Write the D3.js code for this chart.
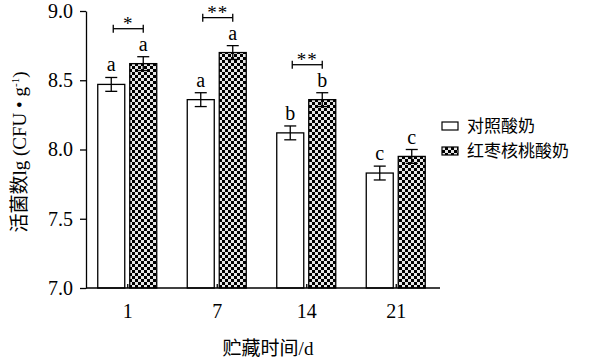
<!DOCTYPE html>
<html><head><meta charset="utf-8">
<script src="https://cdn.jsdelivr.net/npm/d3@7"></script>
<style>body{margin:0;background:#fff}</style>
</head><body>
<svg id="c" width="601" height="362"></svg>
<script>
const categories = ["1","7","14","21"];
const seriesNames = ["对照酸奶","红枣核桃酸奶"];
const controlVals = [8.47, 8.36, 8.12, 7.83];
const controlErr  = [0.05, 0.05, 0.05, 0.05];
const jujubeVals  = [8.62, 8.70, 8.36, 7.95];
const jujubeErr   = [0.05, 0.05, 0.05, 0.05];
const controlLetters = ["a","a","b","c"];
const jujubeLetters  = ["a","a","b","c"];
const sigMarks = ["*","**","**",""];
const yTicks = [7.0, 7.5, 8.0, 8.5, 9.0];

const serif = "'Liberation Serif','Times New Roman','Noto Sans CJK SC',serif";
const svg = d3.select("#c");
const defs = svg.append("defs");
const pat = defs.append("pattern").attr("id","chk").attr("patternUnits","userSpaceOnUse")
  .attr("width",6).attr("height",6);
pat.append("rect").attr("width",6).attr("height",6).attr("fill","#e6e6e6");
pat.append("rect").attr("width",3).attr("height",3).attr("fill","#000");
pat.append("rect").attr("x",3).attr("y",3).attr("width",3).attr("height",3).attr("fill","#000");

const y = d3.scaleLinear().domain([7,9]).range([288,11]);
const x = d3.scaleBand().domain(categories).range([83,441]).padding(0);
const xs = d3.scaleBand().domain(seriesNames).range([0,59]).paddingInner(0.156);
const axisX0 = 86;

const data = categories.map((c,i)=>[
  {c, s:seriesNames[0], v:controlVals[i], e:controlErr[i], l:controlLetters[i]},
  {c, s:seriesNames[1], v:jujubeVals[i], e:jujubeErr[i], l:jujubeLetters[i]}
]);
const bx = d => x(d.c) + x.bandwidth()/2 - 30 + xs(d.s);

const g = svg.append("g");
const flat = data.flat();
// bars
g.selectAll("rect.bar").data(flat).join("rect")
  .attr("x", bx).attr("width", xs.bandwidth())
  .attr("y", d=>y(d.v)).attr("height", d=>y(7)-y(d.v))
  .attr("fill", d=> d.s===seriesNames[0] ? "#fff" : "url(#chk)")
  .attr("stroke","#000").attr("stroke-width",1.3);
// error bars
const eb = g.selectAll("g.err").data(flat).join("g");
eb.append("line").attr("x1",d=>bx(d)+xs.bandwidth()/2).attr("x2",d=>bx(d)+xs.bandwidth()/2)
  .attr("y1",d=>y(d.v+d.e)).attr("y2",d=>y(d.v-d.e)).attr("stroke","#000").attr("stroke-width",1.3);
eb.selectAll("line.cap").data(d=>[[d,d.v+d.e],[d,d.v-d.e]]).join("line")
  .attr("x1",([d])=>bx(d)+xs.bandwidth()/2-6).attr("x2",([d])=>bx(d)+xs.bandwidth()/2+6)
  .attr("y1",([,v])=>y(v)).attr("y2",([,v])=>y(v)).attr("stroke","#000").attr("stroke-width",1.3);
// letters
g.selectAll("text.let").data(flat).join("text")
  .attr("x",d=>bx(d)+xs.bandwidth()/2).attr("y",d=>y(d.v+d.e)-6)
  .attr("text-anchor","middle").attr("font-family",serif).attr("font-size",20)
  .text(d=>d.l);
// significance brackets
data.forEach((pair,i)=>{
  if(!sigMarks[i]) return;
  const x1 = bx(pair[0])+xs.bandwidth()/2+2, x2 = bx(pair[1])+xs.bandwidth()/2;
  const top = Math.min(y(pair[0].v+pair[0].e), y(pair[1].v+pair[1].e));
  const by = top - 28;
  const sg = g.append("g").attr("stroke","#000").attr("stroke-width",1.3);
  sg.append("line").attr("x1",x1).attr("x2",x2).attr("y1",by).attr("y2",by);
  sg.append("line").attr("x1",x1).attr("x2",x1).attr("y1",by-4).attr("y2",by+4);
  sg.append("line").attr("x1",x2).attr("x2",x2).attr("y1",by-4).attr("y2",by+4);
  g.append("text").attr("x",(x1+x2)/2).attr("y",by+1).attr("text-anchor","middle")
   .attr("font-family",serif).attr("font-size",19).attr("letter-spacing",1).text(sigMarks[i]);
});

// y axis
const ya = svg.append("g").attr("transform",`translate(${axisX0},0)`)
  .call(d3.axisLeft(y).tickValues(yTicks).tickFormat(d3.format(".1f")).tickSize(6).tickSizeOuter(0));
ya.select(".domain").attr("stroke-width",1.3);
ya.selectAll(".tick line").attr("stroke-width",1.3);
ya.selectAll("text").attr("font-family",serif).attr("font-size",20).attr("fill","#000").attr("x",-13);

// x axis
const xa = svg.append("g").attr("transform",`translate(0,${y(7)})`)
  .call(d3.axisBottom(x).tickSize(-4).tickSizeOuter(0));
xa.select(".domain").remove();
xa.selectAll(".tick line").attr("stroke-width",1.3);
xa.selectAll("text").attr("font-family",serif).attr("font-size",20).attr("fill","#000").attr("y",16);
svg.append("line").attr("x1",axisX0).attr("x2",440).attr("y1",y(7)).attr("y2",y(7))
  .attr("stroke","#000").attr("stroke-width",1.3);

// axis titles
svg.append("text").attr("x",268).attr("y",355).attr("text-anchor","middle")
  .attr("font-family",serif).attr("font-size",19).text("贮藏时间/d");
const yt = svg.append("text").attr("transform","translate(26,152) rotate(-90)")
  .attr("text-anchor","middle").attr("font-family",serif).attr("font-size",19);
yt.append("tspan").text("活菌数lg (CFU • g");
yt.append("tspan").attr("font-size",11).attr("dy",-7).text("-1");
yt.append("tspan").attr("dy",7).text(")");

// legend
const lg = svg.append("g").attr("transform","translate(442,126)");
seriesNames.forEach((s,i)=>{
  lg.append("rect").attr("x",0).attr("y",i*25-4).attr("width",16).attr("height",8)
    .attr("fill", i===0?"#fff":"url(#chk)").attr("stroke","#000").attr("stroke-width",1.2);
  lg.append("text").attr("x",25).attr("y",i*25+6).attr("font-family",serif)
    .attr("font-size",17).text(s);
});
</script>
</body></html>
